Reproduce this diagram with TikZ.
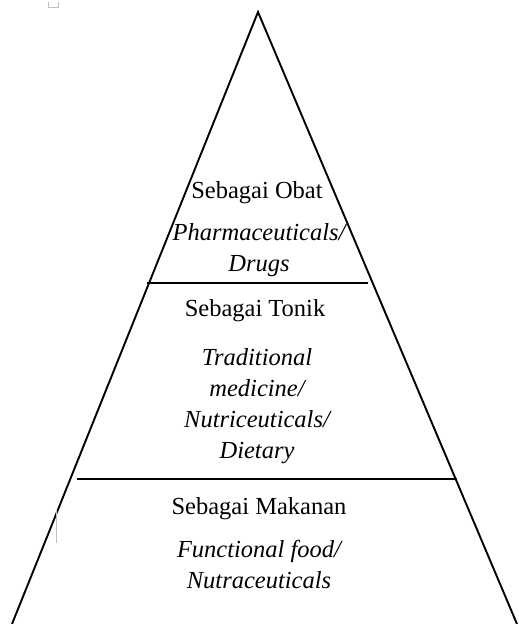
\documentclass[tikz,border=0pt]{standalone}
\usepackage{fontspec}
\setmainfont{Liberation Serif}
\usepackage{tikz}

\begin{document}
\begin{tikzpicture}[x=1pt,y=-1pt,
    judul/.style={font=\fontsize{24.5}{31}\selectfont,inner sep=0pt,anchor=base},
    isi/.style={font=\fontsize{24.5}{31}\selectfont\itshape,inner sep=0pt,align=center,anchor=north}]

                \useasboundingbox (0,0) rectangle (519,624);

                \coordinate (P) at (258,12); %puncak
                \coordinate (L) at (12,624); %kiri bawah
                \coordinate (R) at (517,624); %kanan bawah
                \coordinate (A1) at (147,283); %garis atas kiri
                \coordinate (A2) at (368,283); %garis atas kanan
                \coordinate (B1) at (77,479); %garis bawah kiri
                \coordinate (B2) at (457,479); %garis bawah kanan

                \draw[line width=1.9pt,line join=miter] (L) -- (P) -- (R);
                \foreach \P/\Q in {A1/A2,B1/B2} \draw[line width=2.2pt] (\P) -- (\Q);

                \node[judul] (obat) at (257,198) {Sebagai Obat};
                \node[isi] (obaten) at (259,223) {Pharmaceuticals/\\Drugs};

                \node[judul] (tonik) at (255,316) {Sebagai Tonik};
                \node[isi] (toniken) at (257,348) {Traditional\\medicine/\\Nutriceuticals/\\Dietary};

                \node[judul] (makanan) at (259,514) {Sebagai Makanan};
                \node[isi] (makananen) at (259,540) {Functional food/\\Nutraceuticals};

                % tanda abu-abu
                \draw[gray!50,line width=0.6pt] (56,510) -- (56,543);
                \draw[gray!50,line width=0.6pt] (48,2) -- (48,7) -- (58,7) -- (58,2);

\end{tikzpicture}
\end{document}
